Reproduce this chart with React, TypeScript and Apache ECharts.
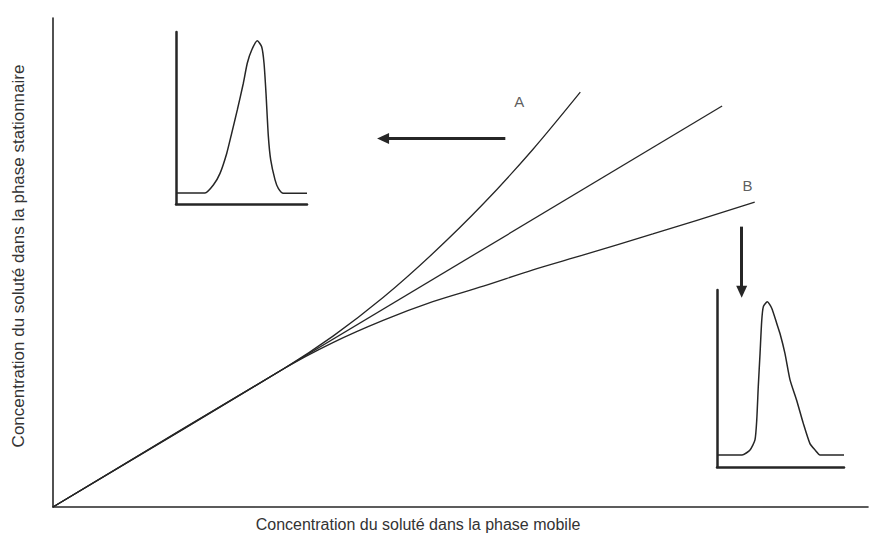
import React, { useEffect, useRef } from "react";
import * as echarts from "echarts";

// Main isotherms (x: concentration in mobile phase, y: concentration in stationary phase)
const curveAX = [0, 2.82, 3.44, 4.05, 4.66, 5.28, 5.89, 6.47];
const curveAY = [0, 1.69, 2.1, 2.57, 3.11, 3.72, 4.39, 5.09];
const linearX = [0, 8.21];
const linearY = [0, 4.92];
const curveBX = [0, 2.82, 3.44, 4.05, 4.66, 5.28, 5.89, 6.5, 7.36, 8.61];
const curveBY = [0, 1.69, 2.02, 2.29, 2.52, 2.71, 2.91, 3.09, 3.35, 3.74];

// Inset peaks (time, signal)
const peakAX = [0, 2.21, 2.85, 3.36, 3.87, 4.25, 4.68, 5.14, 5.44, 5.78, 6.21, 6.54, 6.72, 6.87, 7.05, 7.23, 7.56, 7.81, 8.19, 10];
const peakAY = [0.64, 0.64, 1.1, 1.78, 2.94, 4.11, 5.47, 7.02, 8.18, 8.95, 9.49, 9.14, 8.18, 6.44, 3.93, 2.56, 1.4, 0.91, 0.62, 0.62];
const peakBX = [0, 1.97, 2.6, 2.99, 3.13, 3.25, 3.39, 3.52, 3.65, 3.96, 4.31, 4.7, 4.96, 5.35, 5.75, 6.27, 6.8, 7.32, 7.72, 8.11, 10];
const peakBY = [0.68, 0.68, 0.96, 1.53, 2.66, 4.54, 6.42, 8.25, 9.06, 9.34, 8.97, 8.12, 7.54, 6.42, 4.92, 3.77, 2.45, 1.32, 0.96, 0.68, 0.68];

// Annotations
const labelNames = ["A", "B"];
const labelX = [5.72, 8.52];
const labelY = [4.97, 3.94];
const arrowLeft = [[5.55, 4.52], [4.05, 4.52]];
const arrowDown = [[8.45, 3.44], [8.45, 2.64]];

const xTitle = "Concentration du soluté dans la phase mobile";
const yTitle = "Concentration du soluté dans la phase stationnaire";

const zip = (xs: number[], ys: number[]) => xs.map((x, i) => [x, ys[i]]);

const INK = "#262626";
const FONT = "'Liberation Sans', Arial, sans-serif";

export default function App() {
  const ref = useRef<HTMLDivElement>(null);
  useEffect(() => {
    if (!ref.current) return;
    const chart = echarts.init(ref.current, null, { renderer: "svg" });
    const plainAxis = (lw: number, opts: any) => ({
      type: "value",
      axisLine: { show: true, onZero: false, lineStyle: { color: INK, width: lw } },
      axisTick: { show: false },
      axisLabel: { show: false },
      splitLine: { show: false },
      ...opts,
    });
    const lineSeries = (name: string, data: number[][], idx: number, width: number, smooth: number | boolean) => ({
      name,
      type: "line",
      xAxisIndex: idx,
      yAxisIndex: idx,
      data,
      showSymbol: false,
      symbol: "none",
      smooth,
      lineStyle: { color: INK, width },
      emphasis: { disabled: true },
      silent: true,
    });
    const gridBase = { containLabel: false, outerBoundsMode: "none" };
    const option: any = {
      animation: false,
      backgroundColor: "#ffffff",
      textStyle: { fontFamily: FONT },
      grid: [
        { ...gridBase, left: 53, top: 18, right: 3, bottom: 30 },
        { ...gridBase, left: 176, top: 32, width: 131, height: 172 },
        { ...gridBase, left: 717, top: 290, width: 127, height: 177 },
      ],
      xAxis: [
        plainAxis(1.6, { gridIndex: 0, min: 0, max: 10 }),
        plainAxis(2.5, { gridIndex: 1, min: 0, max: 10 }),
        plainAxis(2.5, { gridIndex: 2, min: 0, max: 10 }),
      ],
      yAxis: [
        plainAxis(1.6, { gridIndex: 0, min: 0, max: 6 }),
        plainAxis(2.5, { gridIndex: 1, min: 0, max: 10 }),
        plainAxis(2.5, { gridIndex: 2, min: 0, max: 10 }),
      ],
      series: [
        lineSeries("A", zip(curveAX, curveAY), 0, 1.3, 0.3),
        lineSeries("linéaire", zip(linearX, linearY), 0, 1.3, false),
        lineSeries("B", zip(curveBX, curveBY), 0, 1.3, 0.3),
        lineSeries("pic A", zip(peakAX, peakAY), 1, 1.5, 0.2),
        lineSeries("pic B", zip(peakBX, peakBY), 2, 1.5, 0.2),
        {
          type: "scatter",
          xAxisIndex: 0,
          yAxisIndex: 0,
          symbolSize: 0,
          silent: true,
          data: labelNames.map((n, i) => ({ value: [labelX[i], labelY[i]], name: n })),
          label: {
            show: true,
            position: "inside",
            formatter: (p: any) => p.name,
            fontSize: 15,
            color: "#333",
            fontFamily: FONT,
          },
        },
        {
          type: "line",
          xAxisIndex: 0,
          yAxisIndex: 0,
          data: [],
          silent: true,
          markLine: {
            silent: true,
            symbol: ["none", "triangle"],
            symbolSize: [11, 12],
            label: { show: false },
            lineStyle: { color: INK, width: 3, type: "solid" },
            emphasis: { disabled: true },
            data: [
              [{ coord: arrowLeft[0] }, { coord: arrowLeft[1] }],
              [{ coord: arrowDown[0] }, { coord: arrowDown[1] }],
            ],
          },
        },
      ],
      graphic: [
        {
          type: "text",
          x: 418,
          y: 524,
          style: {
            text: xTitle,
            fontSize: 16,
            fill: "#333",
            fontFamily: FONT,
            align: "center",
            verticalAlign: "middle",
          },
        },
        {
          type: "text",
          x: 18,
          y: 256,
          rotation: Math.PI / 2,
          style: {
            text: yTitle,
            fontSize: 17,
            fill: "#333",
            fontFamily: FONT,
            align: "center",
            verticalAlign: "middle",
          },
        },
      ],
    };
    chart.setOption(option);
    return () => chart.dispose();
  }, []);
  return (
    <div
      ref={ref}
      style={{ position: "fixed", left: 0, top: 0, width: 871, height: 537, background: "#fff" }}
    />
  );
}
